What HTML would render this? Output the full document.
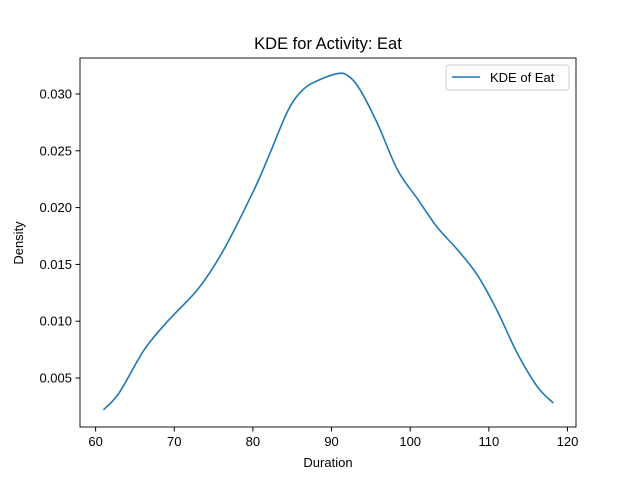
<!DOCTYPE html>
<html><head><meta charset="utf-8"><style>
body{margin:0;background:#fff;}
svg{display:block;font-family:"Liberation Sans","DejaVu Sans",sans-serif;}
</style></head><body>
<svg id="chart" width="640" height="480">
<rect width="640" height="480" fill="#fff"/>
<text x="328" y="49" font-size="16.5" text-anchor="middle">KDE for Activity: Eat</text>
<g id="ticks"></g>
<path id="curve" fill="none" stroke="#1f77b4" stroke-width="1.6"/>
<rect x="80" y="58" width="496" height="369" fill="none" stroke="#000" stroke-width="0.9"/>
<text x="328" y="467" font-size="13" text-anchor="middle">Duration</text>
<text transform="translate(23,243) rotate(-90)" font-size="13" text-anchor="middle">Density</text>
<g>
<rect x="446" y="65" width="123" height="25" rx="3" fill="#fff" stroke="#ccc"/>
<line x1="452" y1="77" x2="480" y2="77" stroke="#1f77b4" stroke-width="1.6"/>
<text x="490" y="82" font-size="13">KDE of Eat</text>
</g>
</svg>
<script>
const xs=[61,63,66.2,69.3,73.1,76.3,80.1,82,84.5,86.4,88.3,90.8,92.1,93.6,95.9,98.4,101,103.4,106,108.5,111,113.6,116.2,118.2];
const ys=[0.0022,0.0037,0.0075,0.0101,0.0129,0.0163,0.0215,0.0245,0.0286,0.0304,0.0312,0.0318,0.0316,0.0304,0.0273,0.0233,0.0207,0.0183,0.0163,0.0141,0.0110,0.0072,0.0042,0.0028];
const xTicks=[60,70,80,90,100,110,120];
const yTicks=[0.005,0.010,0.015,0.020,0.025,0.030];
const X=v=>95.6+(v-60)*7.865;
const Y=v=>94+(0.030-v)*11360;
const ns="http://www.w3.org/2000/svg";
const g=document.getElementById('ticks');
function mk(t,a){const e=document.createElementNS(ns,t);for(const k in a)e.setAttribute(k,a[k]);return e;}
xTicks.forEach(t=>{
 const l=mk('line',{x1:X(t),x2:X(t),y1:427,y2:431.5,stroke:'#000'});
 
 
 g.appendChild(l);
 const tx=mk('text',{x:X(t),y:446,'font-size':13,'text-anchor':'middle'});
 tx.textContent=t;
 
 
 g.appendChild(tx);
});
yTicks.forEach(t=>{
 const l=mk('line',{x1:75.5,x2:80,y1:Y(t),y2:Y(t),stroke:'#000'});
 
 
 g.appendChild(l);
 const tx=mk('text',{x:72,y:Y(t)+4.5,'font-size':13,'text-anchor':'end'});
 tx.textContent=t.toFixed(3);
 
 
 g.appendChild(tx);
});
const P=xs.map((x,i)=>[X(x),Y(ys[i])]);
let d='M'+P[0][0]+','+P[0][1];
for(let i=0;i<P.length-1;i++){
 const p0=P[i-1]||P[i],p1=P[i],p2=P[i+1],p3=P[i+2]||P[i+1];
 const c1=[p1[0]+(p2[0]-p0[0])/6,p1[1]+(p2[1]-p0[1])/6];
 const c2=[p2[0]-(p3[0]-p1[0])/6,p2[1]-(p3[1]-p1[1])/6];
 d+=` C${c1[0]},${c1[1]} ${c2[0]},${c2[1]} ${p2[0]},${p2[1]}`;
}
document.getElementById('curve').setAttribute('d',d);
</script>
</body></html>
